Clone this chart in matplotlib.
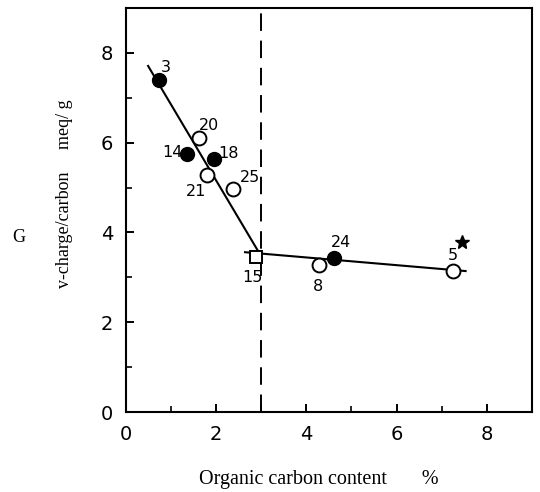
import matplotlib
matplotlib.use("Agg")
import matplotlib.pyplot as plt
from matplotlib.ticker import MultipleLocator

# data
filled_labels = ["3", "14", "18", "24"]
filled_x = [0.73, 1.36, 1.96, 4.62]
filled_y = [7.39, 5.75, 5.63, 3.43]

open_labels = ["20", "21", "25", "8", "5"]
open_x = [1.62, 1.80, 2.38, 4.29, 7.25]
open_y = [6.10, 5.28, 4.97, 3.27, 3.15]

square_label = "15"
square_x = [2.89]
square_y = [3.45]

star_x = [7.44]
star_y = [3.78]

line1_x = [0.49, 2.95]
line1_y = [7.71, 3.55]
line2_x = [2.64, 7.53]
line2_y = [3.56, 3.14]

break_x = 3.0

x_ticks = [0, 2, 4, 6, 8]
y_ticks = [0, 2, 4, 6, 8]

fig = plt.figure(figsize=(5.4, 4.92), dpi=100)
ax = fig.add_axes([0.2333, 0.1626, 0.985 - 0.2333, 0.9837 - 0.1626])

ax.plot(line1_x, line1_y, color="black", lw=1.5, zorder=2)
ax.plot(line2_x, line2_y, color="black", lw=1.5, zorder=2)
ax.axvline(break_x, color="black", lw=1.4, dashes=(9, 5), zorder=1)

ax.plot(filled_x, filled_y, "o", ms=10, mfc="black", mec="black", zorder=3)
ax.plot(open_x, open_y, "o", ms=10, mfc="white", mec="black", mew=1.4, zorder=3)
ax.plot(square_x, square_y, "s", ms=9, mfc="white", mec="black", mew=1.4, zorder=3)
ax.plot(star_x, star_y, "*", ms=10, color="black", zorder=3)

lab_font = dict(fontsize=11.5, family="DejaVu Sans", color="black")
# label offsets in points
offsets = {
    "3": (5, 9), "14": (-11, 1), "18": (10, 4), "24": (5, 11),
    "20": (7, 9), "21": (-8, -12), "25": (12, 8), "8": (-1, -15),
    "5": (0, 11), "15": (-3, -15),
}
for lab, x, y in zip(filled_labels, filled_x, filled_y):
    ax.annotate(lab, (x, y), xytext=offsets[lab], textcoords="offset points",
                ha="center", va="center", **lab_font)
for lab, x, y in zip(open_labels, open_x, open_y):
    ax.annotate(lab, (x, y), xytext=offsets[lab], textcoords="offset points",
                ha="center", va="center", **lab_font)
ax.annotate(square_label, (square_x[0], square_y[0]), xytext=offsets["15"],
            textcoords="offset points", ha="center", va="center", **lab_font)

ax.set_xlim(0, 9)
ax.set_ylim(0, 9)
ax.set_xticks(x_ticks)
ax.set_yticks(y_ticks)
ax.xaxis.set_minor_locator(MultipleLocator(1))
ax.yaxis.set_minor_locator(MultipleLocator(1))
ax.tick_params(axis="both", which="major", direction="in", length=6, width=1.4,
               labelsize=14, pad=9)
ax.tick_params(axis="both", which="minor", direction="in", length=4, width=1.2)
ax.tick_params(axis="x", which="both", top=False)
ax.tick_params(axis="y", which="both", right=False)
for sp in ax.spines.values():
    sp.set_linewidth(1.5)

fig.text(0.3685, 0.025, "Organic carbon content       %", ha="left", va="center",
         fontsize=14.5, family="Liberation Serif")
fig.text(0.12, 0.607, "v-charge/carbon     meq/ g", ha="center", va="center",
         rotation=90, fontsize=13, family="Liberation Serif")
fig.text(0.035, 0.518, "G", ha="center", va="center",
         fontsize=13, family="Liberation Serif")

fig.savefig("out.png", dpi=100)
